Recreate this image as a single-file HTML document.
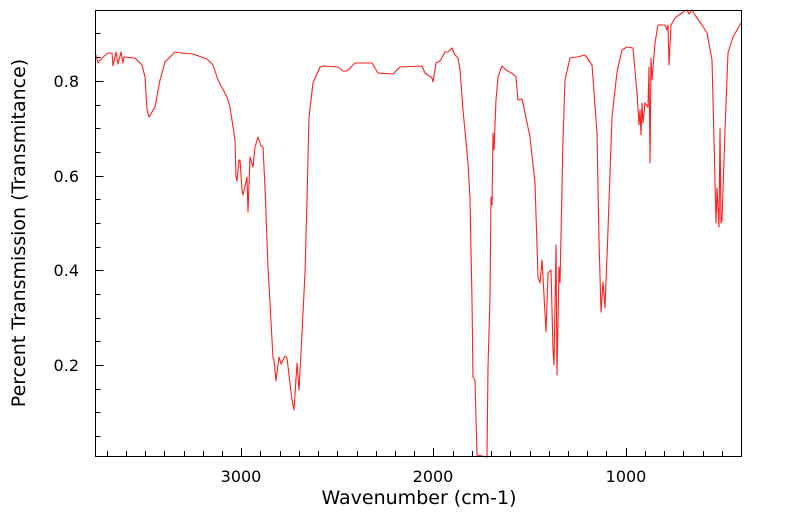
<!DOCTYPE html>
<html><head><meta charset="utf-8"><style>body{margin:0;background:#fff}svg{display:block}</style></head><body>
<svg width="799" height="516" viewBox="0 0 799 516" xmlns="http://www.w3.org/2000/svg" font-family="'DejaVu Sans','Liberation Sans',sans-serif">
<rect x="0" y="0" width="799" height="516" fill="#fff"/>
<g stroke="#000" stroke-width="1">
<path d="M95.5 33.5h5M95.5 57.5h5M95.5 81.5h8M95.5 105.5h5M95.5 128.5h5M95.5 152.5h5M95.5 176.5h8M95.5 199.5h5M95.5 223.5h5M95.5 247.5h5M95.5 270.5h8M95.5 294.5h5M95.5 318.5h5M95.5 341.5h5M95.5 365.5h8M95.5 389.5h5M95.5 412.5h5M95.5 436.5h5"/>
<path d="M107.5 456v-5M126.5 456v-5M145.5 456v-5M164.5 456v-5M184.5 456v-5M203.5 456v-5M222.5 456v-5M241.5 456v-8M260.5 456v-5M280.5 456v-5M299.5 456v-5M318.5 456v-5M337.5 456v-5M357.5 456v-5M376.5 456v-5M395.5 456v-5M414.5 456v-5M433.5 456v-8M453.5 456v-5M472.5 456v-5M491.5 456v-5M510.5 456v-5M530.5 456v-5M549.5 456v-5M568.5 456v-5M587.5 456v-5M606.5 456v-5M626.5 456v-8M645.5 456v-5M664.5 456v-5M683.5 456v-5M703.5 456v-5M722.5 456v-5M741.5 456v-5"/>
</g>
<polyline fill="none" stroke="#ff2020" stroke-width="1.1" stroke-linejoin="round" points="95,52 98,63 102,58 108,53 112,53 113,66 116,52 118,64 121,52 123,63 124,57 135,58 142,65 145,77 147,110 149,117 152,112 155,107 160,80 165,62 175,52 182,53 193,54 207,59 213,65 218,80 227,97 230,107 233,127 235,140 236,177 237,181 239,160 240,160 242,190 243,195 247,177 248,212 250,157 253,167 255,147 258,137 261,146 263,147 265,187 268,267 273,358 274,360 276,381 279,357 281,364 285,356 287,358 289,375 292,400 294,410 297,363 299,390 302,333 305,273 307,200 309,117 313,83 320,67 323,66 338,67 343,71 347,71 355,63 360,63 372,63 378,73 393,74 400,67 422,66 425,73 432,78 433,82 436,63 440,61 445,52 448,52 452,48 455,55 458,58 460,70 463,110 468,163 470,200 472,300 473,377 475,380 477,455 487,457 488,367 490,297 491,197 492,205 493,133 494,150 496,100 498,77 502,66 506,70 513,74 516,77 518,100 522,99 525,113 530,137 535,183 538,277 540,283 542,260 543,277 546,332 548,273 551,270 553,350 554,365 556,245 557,375 559,267 560,283 563,140 565,80 570,58 577,57 585,55 592,65 597,133 599,240 601,312 603,282 605,308 608,230 612,117 617,72 622,50 627,47 633,48 637,93 639,125 640,110 641,135 642,103 643,123 645,103 648,107 649,67 650,163 651,58 652,80 655,43 658,25 665,25 667,30 668,25 669,65 671,25 675,18 683,12 687,10 689,14 692,10 695,15 702,25 707,33 712,60 714,140 716,223 717,188 719,227 720,128 721,223 722,220 725,130 728,53 733,37 741,23"/>
<rect x="95.5" y="10.5" width="646" height="446" fill="none" stroke="#000" stroke-width="1"/>
<g font-size="16" fill="#000">
<text x="79" y="87" text-anchor="end">0.8</text>
<text x="79" y="182" text-anchor="end">0.6</text>
<text x="79" y="276" text-anchor="end">0.4</text>
<text x="79" y="371" text-anchor="end">0.2</text>
<text x="241" y="482" text-anchor="middle">3000</text>
<text x="433" y="482" text-anchor="middle">2000</text>
<text x="626" y="482" text-anchor="middle">1000</text>
</g>
<text x="419" y="504" text-anchor="middle" font-size="19">Wavenumber (cm-1)</text>
<text transform="translate(25,233) rotate(-90)" text-anchor="middle" font-size="19">Percent Transmission (Transmitance)</text>
</svg>
</body></html>
